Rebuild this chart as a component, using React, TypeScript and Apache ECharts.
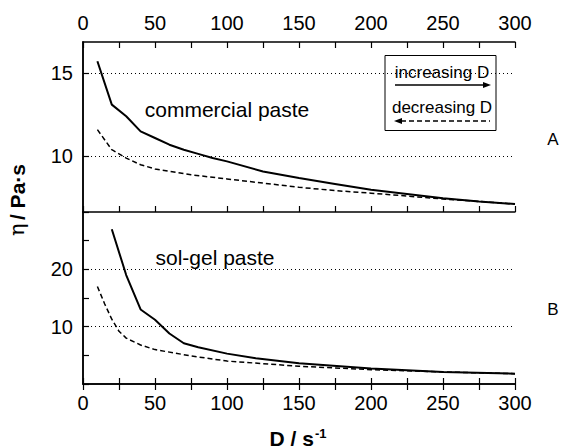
import React, { useEffect, useRef } from "react";
import * as echarts from "echarts";

// Shear rate D / s^-1 and viscosity eta / Pa·s
const dTopInc = [10, 20, 30, 40, 50, 60, 70, 80, 90, 100, 125, 150, 175, 200, 225, 250, 275, 300];
const etaTopInc = [15.7, 13.1, 12.4, 11.5, 11.1, 10.7, 10.4, 10.15, 9.9, 9.7, 9.1, 8.7, 8.35, 8.0, 7.75, 7.5, 7.3, 7.15];

const dTopDec = [10, 15, 20, 30, 40, 50, 75, 100, 125, 150, 175, 200, 250, 300];
const etaTopDec = [11.6, 11.0, 10.4, 9.9, 9.5, 9.25, 8.9, 8.65, 8.4, 8.15, 7.95, 7.8, 7.45, 7.15];

const dBotInc = [20, 30, 40, 50, 60, 70, 80, 100, 120, 150, 200, 250, 300];
const etaBotInc = [27, 19, 13, 11.2, 8.8, 7.1, 6.4, 5.3, 4.5, 3.6, 2.7, 2.1, 1.8];

const dBotDec = [10, 15, 20, 25, 30, 40, 50, 75, 100, 150, 200, 250, 300];
const etaBotDec = [17, 14, 11.3, 9.2, 8.0, 6.8, 6.0, 4.9, 4.0, 3.1, 2.5, 2.1, 1.8];

const xTicks = { min: 0, max: 300, interval: 50 };
const topYLabels = [10, 15];
const botYLabels = [10, 20];
const topGrid = [10, 15];
const botGrid = [10, 20];

const FONT = "'Liberation Sans', Arial, sans-serif";

const zip = (xs: number[], ys: number[]) => xs.map((x, i) => [x, ys[i]]);

export default function App() {
  const ref = useRef<HTMLDivElement>(null);
  useEffect(() => {
    document.body.style.margin = "0";
    const chart = echarts.init(ref.current!, undefined, { renderer: "svg" });
    const axisLine = { show: true, lineStyle: { color: "#000", width: 1.5 } };
    const tick = { show: true, inside: true, length: 6, lineStyle: { color: "#000", width: 1.2 } };
    const minor = { show: true, splitNumber: 2, length: 6, lineStyle: { color: "#000", width: 1.2 } };
    const xBase = (grid: number, pos: string, labels: boolean) => ({
      type: "value",
      gridIndex: grid,
      position: pos,
      ...xTicks,
      axisLine,
      axisTick: tick,
      minorTick: minor,
      splitLine: { show: false },
      axisLabel: labels
        ? { show: true, fontSize: 20, color: "#000", fontFamily: FONT, margin: 9 }
        : { show: false },
    });
    const markLine = (vals: number[]) => ({
      silent: true,
      symbol: ["none", "none"],
      label: { show: false },
      lineStyle: { type: [1, 3], color: "#000", width: 1 },
      data: vals.map((v) => ({ yAxis: v })),
    });
    const solid = { color: "#000", width: 2, type: "solid" };
    const dashed = { color: "#000", width: 1.5, type: [5, 3] };

    chart.setOption({
      animation: false,
      backgroundColor: "#fff",
      grid: [
        { left: 83, top: 42, width: 432, height: 170 },
        { left: 83, top: 212, width: 432, height: 172 },
      ],
      xAxis: [
        xBase(0, "top", true),
        xBase(0, "bottom", false),
        xBase(1, "top", false),
        xBase(1, "bottom", true),
      ],
      yAxis: [
        {
          type: "value",
          gridIndex: 0,
          min: 6.67,
          max: 16.85,
          axisLine,
          axisTick: { ...tick, customValues: topYLabels },
          axisLabel: { fontSize: 20, color: "#000", fontFamily: FONT, margin: 10, customValues: topYLabels },
          splitLine: { show: false },
        },
        {
          type: "value",
          gridIndex: 0,
          position: "right",
          min: 6.67,
          max: 16.85,
          axisLine,
          axisTick: { show: false },
          axisLabel: { show: false },
          splitLine: { show: false },
        },
        {
          type: "value",
          gridIndex: 1,
          min: 0,
          max: 30,
          interval: 5,
          axisLine,
          axisTick: tick,
          axisLabel: {
            fontSize: 20,
            color: "#000",
            fontFamily: FONT,
            margin: 10,
            formatter: (v: number) => (botYLabels.includes(v) ? String(v) : ""),
          },
          splitLine: { show: false },
        },
        {
          type: "value",
          gridIndex: 1,
          position: "right",
          min: 0,
          max: 30,
          axisLine,
          axisTick: { show: false },
          axisLabel: { show: false },
          splitLine: { show: false },
        },
      ],
      series: [
        {
          type: "line",
          xAxisIndex: 0,
          yAxisIndex: 0,
          data: zip(dTopInc, etaTopInc),
          showSymbol: false,
          lineStyle: solid,
          markLine: markLine(topGrid),
        },
        {
          type: "line",
          xAxisIndex: 0,
          yAxisIndex: 0,
          data: zip(dTopDec, etaTopDec),
          showSymbol: false,
          lineStyle: dashed,
        },
        {
          type: "line",
          xAxisIndex: 3,
          yAxisIndex: 2,
          data: zip(dBotInc, etaBotInc),
          showSymbol: false,
          lineStyle: solid,
          markLine: markLine(botGrid),
        },
        {
          type: "line",
          xAxisIndex: 3,
          yAxisIndex: 2,
          data: zip(dBotDec, etaBotDec),
          showSymbol: false,
          lineStyle: dashed,
        },
      ],
      graphic: [
        {
          type: "text",
          x: 227,
          y: 109,
          style: { text: "commercial paste", font: `21px ${FONT}`, fill: "#000", align: "center", verticalAlign: "middle" },
        },
        {
          type: "text",
          x: 215,
          y: 257,
          style: { text: "sol-gel paste", font: `21px ${FONT}`, fill: "#000", align: "center", verticalAlign: "middle" },
        },
        {
          type: "text",
          x: 553,
          y: 139,
          style: { text: "A", font: `17px ${FONT}`, fill: "#000", align: "center", verticalAlign: "middle" },
        },
        {
          type: "text",
          x: 553,
          y: 309,
          style: { text: "B", font: `17px ${FONT}`, fill: "#000", align: "center", verticalAlign: "middle" },
        },
        // legend box
        {
          type: "rect",
          shape: { x: 385, y: 55.5, width: 111, height: 75 },
          style: { fill: "none", stroke: "#000", lineWidth: 1 },
        },
        {
          type: "text",
          x: 442,
          y: 72,
          style: { text: "increasing D", font: `17px ${FONT}`, fill: "#000", align: "center", verticalAlign: "middle" },
        },
        {
          type: "line",
          shape: { x1: 395, y1: 85, x2: 484, y2: 85 },
          style: { stroke: "#000", lineWidth: 1.5 },
        },
        {
          type: "polygon",
          shape: { points: [[483, 82], [491, 85], [483, 88]] },
          style: { fill: "#000" },
        },
        {
          type: "text",
          x: 442,
          y: 107,
          style: { text: "decreasing D", font: `17px ${FONT}`, fill: "#000", align: "center", verticalAlign: "middle" },
        },
        {
          type: "line",
          shape: { x1: 401, y1: 121, x2: 490, y2: 121 },
          style: { stroke: "#000", lineWidth: 1.5, lineDash: [5, 3] },
        },
        {
          type: "polygon",
          shape: { points: [[402, 118], [394, 121], [402, 124]] },
          style: { fill: "#000" },
        },
        // x axis title
        {
          type: "text",
          x: 298,
          y: 438,
          style: {
            text: "{a|D / s}{b|-1}",
            align: "center",
            verticalAlign: "middle",
            rich: {
              a: { font: `bold 21px ${FONT}`, fill: "#000" },
              b: { font: `bold 13px ${FONT}`, fill: "#000", verticalAlign: "top", padding: [0, 0, 10, 1] },
            },
          },
        },
        // y axis title
        {
          type: "text",
          x: 17,
          y: 200,
          rotation: Math.PI / 2,
          style: {
            text: "{e|η} {a|/ Pa·s}",
            align: "center",
            verticalAlign: "middle",
            rich: {
              e: { font: `21px 'DejaVu Serif', serif`, fill: "#000" },
              a: { font: `bold 21px ${FONT}`, fill: "#000" },
            },
          },
        },
      ],
    });
    return () => chart.dispose();
  }, []);
  return <div ref={ref} style={{ width: 562, height: 448 }} />;
}
